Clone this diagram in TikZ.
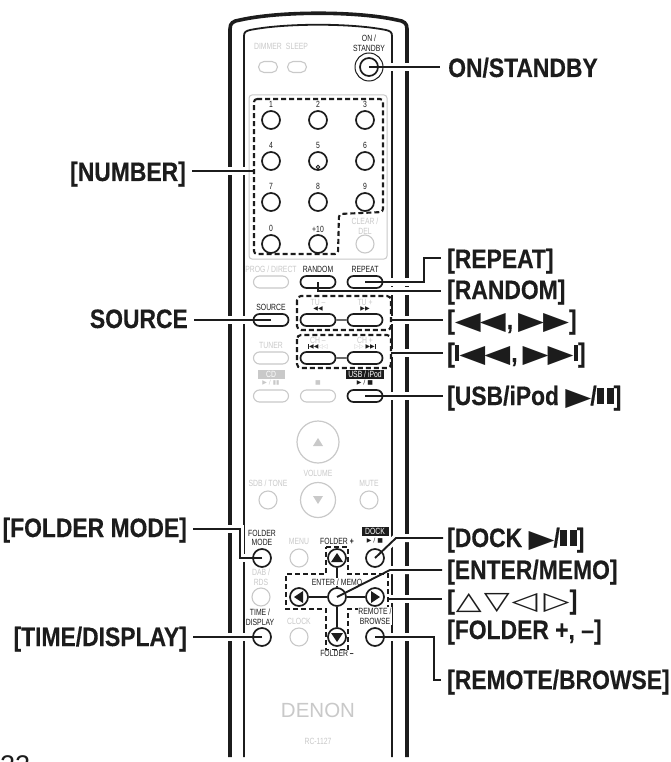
\documentclass[tikz,border=0pt]{standalone}
\usepackage{fontspec}
\usetikzlibrary{shapes.misc,backgrounds}
\setmainfont{Liberation Sans}
\newfontfamily\boldcn[FakeStretch=0.86,FakeBold=0.35]{Liberation Sans}
\newfontfamily\smallcn[FakeStretch=0.76]{Liberation Sans}
\newfontfamily\sym{DejaVu Sans}
\newfontfamily\symw[FakeStretch=1.35]{DejaVu Sans}
\definecolor{faint}{HTML}{C9C9C9}
\definecolor{ink}{HTML}{1C1C1C}
\newcommand{\bignum}{\fontsize{26.6}{26.6}\selectfont\boldcn\bfseries}
\newcommand{\smalltxt}{\fontsize{9}{9.6}\selectfont\smallcn}
\newcommand{\tril}{{\fontsize{25}{25}\selectfont\symw ◀}}
\newcommand{\trir}{{\fontsize{25}{25}\selectfont\symw ▶}}
\newcommand{\pbar}{\rule[1pt]{7pt}{16pt}}
\newcommand{\sbar}{\rule[1pt]{4.5pt}{16pt}}
\newcommand{\otri}[1]{{\fontsize{25}{25}\selectfont\symw #1}}
\tikzset{
  lab/.style={anchor=base west,inner sep=0pt,text=ink,font=\bignum},
  labr/.style={anchor=base east,inner sep=0pt,text=ink,font=\bignum},
  tag/.style={inner sep=0pt,align=center,text=ink,font=\smalltxt},
  ftag/.style={tag,text=faint},
  rbtn/.style={circle,draw=ink,line width=1.7pt,minimum size=18pt,inner sep=0pt},
  fbtn/.style={rbtn,draw=faint,line width=1.1pt},
  pbtn/.style={rounded rectangle,draw=ink,line width=1.7pt,minimum width=35pt,minimum height=12pt,inner sep=0pt},
  gbtn/.style={pbtn,draw=faint,line width=1.1pt},
  dashbox/.style={draw=ink,line width=2.1pt,dash pattern=on 5pt off 3pt},
  leader/.style={draw=ink,line width=1.9pt},
  halo/.style={draw=white,line width=8pt},
  shell/.style={draw=ink,line cap=butt},
  conn/.style={draw=ink,line width=1.3pt},
}
\begin{document}
\begin{tikzpicture}[x=1pt,y=-1pt]
\useasboundingbox (0,0) rectangle (671,762);
% ---- top buttons
\node[gbtn,minimum width=19pt,minimum height=11pt] (dimmer) at (268,67) {};
\node[gbtn,minimum width=19pt,minimum height=11pt] (sleep) at (297,67) {};
\node[rbtn,minimum size=18pt] (on) at (369,67) {};
\node[circle,draw=ink,line width=1pt,minimum size=28pt,inner sep=0pt] (onring) at (369,67) {};
\node[ftag] (tdim) at (268,46) {DIMMER};
\node[ftag] (tsleep) at (297,46) {SLEEP};
\node[tag] (ton) at (369,43) {ON /\\STANDBY};
% ---- keypad
\foreach \n/\x/\y in {1/271/120,2/318/120,3/365/120,4/271/161,5/318/161,6/365/161,7/271/202,8/318/202,9/365/202,0/271/244}{
  \node[rbtn] (k\n) at (\x,\y) {};
  \node[tag] (kt\n) at (\x,\y-16) {\n};
}
\node[rbtn] (kten) at (318,244) {};
\node[tag] (kttn) at (318,229) {+10};
\node[fbtn] (kclr) at (365,244) {};
\node[ftag] (tclr) at (365,226) {CLEAR /\\DEL};
\node[circle,draw=ink,line width=.8pt,minimum size=3.5pt,inner sep=0pt] (dot5) at (318,167) {};
\draw[dashbox,rounded corners=3pt] (254,99) -- (383,99) -- (383,212) -- (339,214) -- (338,254) -- (254,254) -- cycle;
% ---- pill rows
\node[gbtn] (prog) at (271,282) {};
\node[pbtn] (random) at (318,282) {};
\node[pbtn] (repeat) at (365,282) {};
\node[ftag] (tprog) at (271,269) {PROG / DIRECT};
\node[tag] (trandom) at (318,269) {RANDOM};
\node[tag] (trepeat) at (365,269) {REPEAT};
\node[pbtn] (source) at (271,320) {};
\node[pbtn] (rew) at (318,320) {};
\node[pbtn] (fwd) at (365,320) {};
\draw[conn] (rew) -- (fwd);
\node[tag] (tsource) at (271,307) {SOURCE};
\node[ftag] (ttum) at (318,302) {TU –};
\node[ftag] (ttup) at (365,302) {TU +};
\node[tag,font=\fontsize{6}{6}\selectfont\sym] (trew) at (318,309) {◀◀};
\node[tag,font=\fontsize{6}{6}\selectfont\sym] (tfwd) at (365,309) {▶▶};
\draw[dashbox,rounded corners=4pt] (297,296) rectangle (391,330);
\node[gbtn] (tuner) at (271,358) {};
\node[pbtn] (prev) at (318,358) {};
\node[pbtn] (next) at (365,358) {};
\draw[conn] (prev) -- (next);
\node[ftag] (ttuner) at (271,345) {TUNER};
\node[ftag] (tchm) at (318,340) {CH –};
\node[ftag] (tchp) at (365,340) {CH +};
\node[tag,font=\fontsize{6}{6}\selectfont\sym] (tprev) at (318,347) {\rule{.8pt}{4.5pt}◀◀\textcolor{faint}{ ◁◁}};
\node[tag,font=\fontsize{6}{6}\selectfont\sym] (tnext) at (365,347) {\textcolor{faint}{▷▷ }▶▶\rule{.8pt}{4.5pt}};
\draw[dashbox,rounded corners=4pt] (297,335) rectangle (391,368);
\node[gbtn] (cd) at (271,396) {};
\node[gbtn] (stop) at (318,396) {};
\node[pbtn] (usb) at (365,396) {};
\node[fill=faint,tag,text=white,minimum width=27pt,minimum height=9pt] (tcd) at (271,374) {CD};
\node[fill=ink,tag,text=white,minimum width=38pt,minimum height=9pt] (tusb) at (365,374) {USB / iPod};
\node[ftag,font=\fontsize{6}{6}\selectfont\sym] (tcdi) at (271,383) {▶ / ▮▮};
\node[ftag,font=\fontsize{6}{6}\selectfont\sym] (tstop) at (318,383) {■};
\node[tag,font=\fontsize{6}{6}\selectfont\sym] (tusbi) at (365,383) {▶ / ■};
% ---- volume
\node[circle,draw=faint,line width=1.2pt,minimum size=42pt,inner sep=0pt] (volup) at (318,442) {};
\node[circle,draw=faint,line width=1.2pt,minimum size=35pt,inner sep=0pt] (voldn) at (318,500) {};
\fill[faint] (318,438) -- (323,446) -- (313,446) -- cycle;
\fill[faint] (318,504) -- (323,496) -- (313,496) -- cycle;
\node[ftag] (tvol) at (318,473) {VOLUME};
\node[fbtn] (sdb) at (268,500) {};
\node[fbtn] (mute) at (369,500) {};
\node[ftag] (tsdb) at (268,483) {SDB / TONE};
\node[ftag] (tmute) at (369,483) {MUTE};
% ---- lower grid
\node[rbtn] (folder) at (262,558) {};
\node[fbtn] (menu) at (299,558) {};
\node[rbtn] (up) at (337,558) {};
\node[rbtn] (dock) at (375,558) {};
\node[fbtn] (dab) at (261,597) {};
\node[rbtn] (left) at (299,597) {};
\node[rbtn] (enter) at (337,597) {};
\node[rbtn] (right) at (375,597) {};
\node[rbtn] (time) at (262,637) {};
\node[fbtn] (clock) at (299,637) {};
\node[rbtn] (down) at (337,637) {};
\node[rbtn] (browse) at (375,637) {};
\fill[ink] (337,553) -- (343,562) -- (331,562) -- cycle;
\fill[ink] (337,642) -- (343,633) -- (331,633) -- cycle;
\fill[ink] (294,597) -- (303,591) -- (303,603) -- cycle;
\fill[ink] (380,597) -- (371,591) -- (371,603) -- cycle;
\draw[dashbox] (326,547) -- (348,547) -- (348,574) -- (388,574) -- (388,609) -- (348,609) -- (348,650) -- (326,650) -- (326,609) -- (286,609) -- (286,574) -- (326,574) -- cycle;
\draw[conn] (up) -- (enter);
\draw[conn] (enter) -- (down);
\draw[conn] (left) -- (enter);
\draw[conn] (enter) -- (right);
\node[tag] (tfolder) at (262,538) {FOLDER\\MODE};
\node[ftag] (tmenu) at (299,541) {MENU};
\node[tag,fill=white,inner xsep=1pt] (tfp) at (337,541) {FOLDER \textbf{+}};
\node[tag,fill=ink,text=white,minimum width=27pt,minimum height=9pt] (tdock) at (375,531) {DOCK};
\node[tag,font=\fontsize{6}{6}\selectfont\sym] (tdocki) at (375,541) {▶ / ■};
\node[ftag] (tdab) at (261,577) {DAB /\\RDS};
\node[tag,fill=white,inner sep=.5pt] (tenter) at (337,582) {ENTER / MEMO};
\node[tag] (ttime) at (260,617) {TIME /\\DISPLAY};
\node[ftag] (tclock) at (299,621) {CLOCK};
\node[tag,fill=white,inner sep=.5pt] (tbrowse) at (375,616) {REMOTE /\\BROWSE};
\node[tag,fill=white,inner xsep=1pt] (tfm) at (337,653) {FOLDER \textbf{–}};
\node[text=faint,inner sep=0pt,font=\fontsize{20.5}{20.5}\selectfont] (denon) at (318,710) {DENON};
\node[ftag] (model) at (318,741) {RC-1127};
% ---- labels
\node[lab] (lon) at (448,77) {ON/STANDBY};
\node[lab] (lrep) at (447,268) {[REPEAT]};
\node[lab] (lran) at (447,299) {[RANDOM]};
\node[lab] (lrew) at (447,329) {[\tril\kern-1pt\tril\kern1pt,\kern5pt\trir\kern-1pt\trir]};
\node[lab] (lprev) at (447,362) {[\sbar\tril\kern-1pt\tril\kern1pt,\kern5pt\trir\kern-1pt\trir\sbar]};
\node[lab] (lusb) at (447,405) {[USB/iPod \trir\kern-1pt/\pbar\kern3pt\pbar]};
\node[lab] (ldock) at (447,547) {[DOCK \trir\kern-1pt/\pbar\kern3pt\pbar]};
\node[lab] (lent) at (447,579) {[ENTER/MEMO]};
\node[lab] (larr) at (447,609) {[\kern1pt\otri{△}\kern2pt\otri{▽}\kern2pt\otri{◁}\kern6pt\otri{▷}]};
\node[lab] (lfol) at (447,639) {[FOLDER +, –]};
\node[lab] (lrem) at (447,689) {[REMOTE/BROWSE]};
\node[labr] (lnum) at (186,181) {[NUMBER]};
\node[labr] (lsrc) at (188,328) {SOURCE};
\node[labr] (lfm) at (187,537) {[FOLDER MODE]};
\node[labr] (ltd) at (187,646) {[TIME/DISPLAY]};
\begin{scope}
\clip (0,0) rectangle (671,762);
\node[anchor=base west,inner sep=0pt,text=ink,font=\fontsize{27}{27}\selectfont] (page) at (0,774) {22};
\end{scope}
% ---- anchor points of the elbows and free ends
\coordinate (eRep) at (424,282); \coordinate (eRep2) at (424,258);
\coordinate (eRan) at (318,291);
\coordinate (eDock) at (396,538);
\coordinate (eEnt) at (390,570);
\coordinate (eRem) at (434,637); \coordinate (eRem2) at (434,680);
\coordinate (eFm) at (240,529); \coordinate (eFm2) at (240,558);
\coordinate (eNum) at (254,171);
\coordinate (eRew) at (391,320);
\coordinate (ePrev) at (391,353);
\coordinate (eArr) at (388,599);
\newcommand{\onpath}{(on.center) -- ([xshift=-8pt]lon.west |- on)}
\newcommand{\reppath}{(repeat.center) -- (eRep) -- (eRep2) -- ([xshift=-6pt]lrep.west |- eRep2)}
\newcommand{\ranpath}{(random.center) -- (eRan) -- ([xshift=-6pt]lran.west |- eRan)}
\newcommand{\srcpath}{(source.center) -- ([xshift=6pt]lsrc.east |- source)}
\newcommand{\rewpath}{(eRew) -- ([xshift=-4pt]lrew.west |- eRew)}
\newcommand{\prevpath}{(ePrev) -- ([xshift=-4pt]lprev.west |- ePrev)}
\newcommand{\usbpath}{(usb.center) -- ([xshift=-4pt]lusb.west |- usb)}
\newcommand{\dockpath}{(dock.center) -- (eDock) -- ([xshift=-4pt]ldock.west |- eDock)}
\newcommand{\entpath}{(enter.center) -- (eEnt) -- ([xshift=-5pt]lent.west |- eEnt)}
\newcommand{\arrpath}{(eArr) -- ([xshift=-5pt]larr.west |- eArr)}
\newcommand{\rempath}{(browse.center) -- (eRem) -- (eRem2) -- ([xshift=-6pt]lrem.west |- eRem2)}
\newcommand{\numpath}{(eNum) -- ([xshift=6pt]lnum.east |- eNum)}
\newcommand{\fmpath}{(folder.center) -- (eFm2) -- (eFm) -- ([xshift=6pt]lfm.east |- eFm)}
\newcommand{\tdpath}{(time.center) -- ([xshift=6pt]ltd.east |- time)}
\begin{scope}[on background layer]
\fill[white] (0,0) rectangle (671,762);
\draw[shell,line width=3.6pt] (230,757) -- (230,29) .. controls (230,23) and (233,21) .. (240,20) .. controls (280,11) and (357,11) .. (397,20) .. controls (404,21) and (407,23) .. (407,29) -- (407,757);
\draw[shell,line width=1.8pt] (244,757) -- (244,36) .. controls (244,32) and (246,31) .. (250,30) .. controls (285,23) and (351,23) .. (386,30) .. controls (390,31) and (392,32) .. (392,36) -- (392,757);
\foreach \p in {\onpath,\reppath,\ranpath,\srcpath,\rewpath,\prevpath,\usbpath,\dockpath,\entpath,\arrpath,\rempath,\numpath,\fmpath,\tdpath}{
  \draw[halo] \p;
}
\draw[faint,line width=1pt,rounded corners=3pt] (249,95) rectangle (387,259);
\end{scope}
\foreach \p in {\onpath,\reppath,\ranpath,\srcpath,\rewpath,\prevpath,\usbpath,\dockpath,\entpath,\arrpath,\rempath,\numpath,\fmpath,\tdpath}{
  \draw[leader] \p;
}
\end{tikzpicture}
\end{document}
